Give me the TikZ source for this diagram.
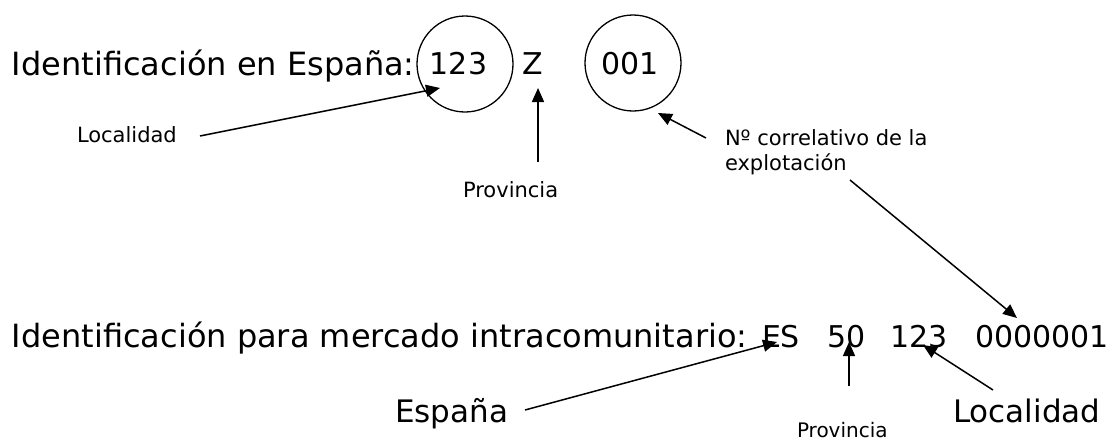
\documentclass[tikz,border=0pt]{standalone}
\usepackage{fontspec}
\setmainfont{DejaVu Sans}
\usetikzlibrary{arrows.meta}
\newcommand\myfs[1]{\fontsize{#1}{#1}\selectfont}
\begin{document}
\begin{tikzpicture}[x=1pt,y=-1pt,
  txt/.style={inner sep=0pt,outer sep=0pt,anchor=base west},
  big/.style={txt,font=\myfs{32}},
  num/.style={txt,font=\myfs{30}},
  small/.style={txt,font=\myfs{21}},
  ring/.style={draw,circle,line width=1.3pt,minimum size=96pt,inner sep=0pt},
  conn/.style={line width=1.5pt,-{Triangle[length=14pt,width=12pt]}}]
\useasboundingbox (0,0) rectangle (1114,442);
% top line
\node[big] (lblTop) at (12,75) {Identificación en España:};
\node[ring] (c123) at (465,64) {};
\node[num,anchor=base] (t123) at (458.5,74) {123};
\node[num,anchor=base] (tZ) at (533,74) {Z};
\node[ring] (c001) at (633,63) {};
\node[num,anchor=base] (t001) at (630,74) {001};
\node[small] (locTop) at (77,142) {Localidad};
\node[small] (provTop) at (463,197) {Provincia};
\node[small] (ncorr1) at (725,145) {Nº correlativo de la};
\node[small] (ncorr2) at (725,170) {explotación};
% bottom line
\node[big] (lblBot) at (12,347) {Identificación para mercado intracomunitario:};
\node[num] (tES) at (762,347) {ES};
\node[num] (t50) at (827,347) {50};
\node[num] (tB123) at (890,347) {123};
\node[num] (tSeq) at (975,347) {0000001};
\node[txt,font=\myfs{31}] (espana) at (395,422) {España};
\node[txt,font=\myfs{20}] (provBot) at (797,437) {Provincia};
\node[txt,font=\myfs{31}] (locBot) at (953,422) {Localidad};
% connector ends
\coordinate (a1s) at (200,136); \coordinate (a1e) at (440,88);
\coordinate (a2s) at (538,162); \coordinate (a2e) at (538,88);
\coordinate (a3s) at (706,138); \coordinate (a3e) at (658,113);
\coordinate (a4s) at (850,180); \coordinate (a4e) at (1017,318);
\coordinate (a5s) at (525,410); \coordinate (a5e) at (777,342);
\coordinate (a6s) at (849,386); \coordinate (a6e) at (849,342);
\coordinate (a7s) at (993,390); \coordinate (a7e) at (923,345);
\draw[conn] (a1s) -- (a1e);
\draw[conn] (a2s) -- (a2e);
\draw[conn] (a3s) -- (a3e);
\draw[conn] (a4s) -- (a4e);
\draw[conn] (a5s) -- (a5e);
\draw[conn] (a6s) -- (a6e);
\draw[conn] (a7s) -- (a7e);
\end{tikzpicture}
\end{document}
